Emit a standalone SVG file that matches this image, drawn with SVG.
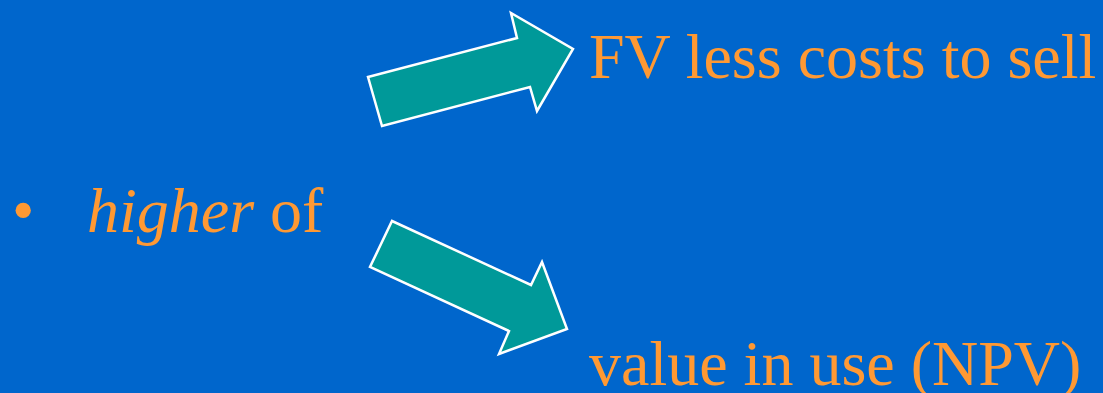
<svg xmlns="http://www.w3.org/2000/svg" width="1103" height="393" viewBox="0 0 1103 393">
<style>
.t{font-family:"Liberation Serif","Times New Roman",serif;font-size:64px;fill:#FF9933}
.arrow{fill:#009999;stroke:#FFFFFF;stroke-width:2.5;stroke-linejoin:miter}
</style>
<rect width="1103" height="393" fill="#0066CC"/>
<g id="connectors">
<polygon id="arrow-up" class="arrow" points="368,77 517,38 511,13 573,49 537,111 530,87 382,126"/>
<polygon id="arrow-down" class="arrow" points="392,221 531,285 542,262 567,329 499,354 509,331 370,267"/>
</g>
<g id="source">
<text class="t" x="12" y="232">•</text>
<text class="t" x="87" y="232"><tspan font-style="italic">higher</tspan> of</text>
</g>
<g id="fv">
<text class="t" x="589" y="78">FV less costs to sell</text>
</g>
<g id="viu">
<text class="t" x="589" y="385">value in use (NPV)</text>
</g>
</svg>
